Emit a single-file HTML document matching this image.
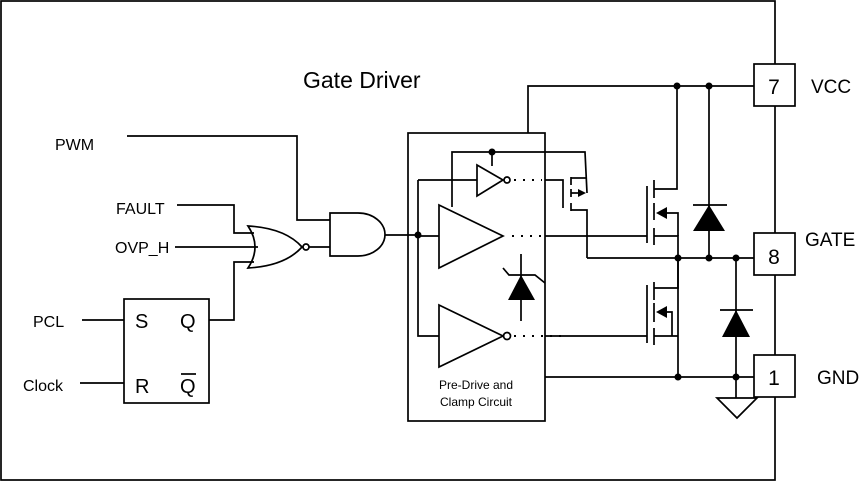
<!DOCTYPE html><html><head><style>body{margin:0;background:#fff}svg{display:block}text{font-family:"Liberation Sans",sans-serif;fill:#000}</style></head><body>
<svg width="868" height="482" viewBox="0 0 868 482" xmlns="http://www.w3.org/2000/svg">
<g fill="none" stroke="#000" stroke-width="1.7">
<rect x="1" y="1" width="774" height="479"/>
<!-- pins -->
<rect x="754" y="64" width="41" height="42" fill="#fff"/>
<rect x="754" y="233" width="41" height="42" fill="#fff"/>
<rect x="754" y="355" width="41" height="42" fill="#fff"/>
<!-- predrive box -->
<rect x="408" y="133" width="137" height="288"/>
<!-- left logic -->
<polyline points="127,136 297,136 297,220 330,220"/>
<path d="M330,213 H358 A27,21.5 0 0 1 358,256 H330 Z"/>
<line x1="385" y1="235" x2="418" y2="235"/>
<polyline points="177,205 234,205 234,233 254,233"/>
<line x1="175" y1="247" x2="258" y2="247"/>
<polyline points="209,320 234,320 234,262 254,262"/>
<path d="M248,226 Q262,247 248,268 Q285,266 302,247 Q285,228 248,226 Z"/>
<circle cx="306" cy="247" r="3"/>
<line x1="309" y1="247" x2="330" y2="247"/>
<rect x="124" y="299" width="85" height="104"/>
<line x1="82" y1="320" x2="124" y2="320"/>
<line x1="80" y1="383" x2="124" y2="383"/>
<line x1="181" y1="374" x2="196" y2="374"/>
<!-- inner predrive -->
<polyline points="418,180 418,336 439,336"/>
<line x1="418" y1="236" x2="439" y2="236"/>
<line x1="418" y1="180" x2="477" y2="180"/>
<polygon points="439,205 503,236 439,268"/>
<polygon points="439,305 503,336 439,367"/>
<polygon points="477,165 503,180 477,196"/>
<circle cx="507" cy="180" r="3"/>
<circle cx="507" cy="336" r="3.5"/>
<polyline points="452,207 452,152 585,152 587,193"/>
<line x1="492" y1="152" x2="492" y2="166"/>
<polyline points="545,180 563,180 563,208"/>
<line x1="571" y1="177" x2="571" y2="185"/>
<line x1="571" y1="189" x2="571" y2="197"/>
<line x1="571" y1="203" x2="571" y2="211"/>
<line x1="571" y1="178" x2="587" y2="178"/>
<line x1="571" y1="193" x2="582" y2="193"/>
<polyline points="571,210 587,210 587,258"/>
<!-- zener -->
<line x1="521" y1="254" x2="521" y2="321"/>
<polyline points="503,268 509,275 535,275 545,283"/>
<!-- dotted connections -->
<line x1="514" y1="180" x2="542" y2="180" stroke-dasharray="2,7" stroke-width="2"/>
<line x1="512" y1="236" x2="542" y2="236" stroke-dasharray="2,7" stroke-width="2"/>
<line x1="514" y1="336" x2="562" y2="336" stroke-dasharray="2,7" stroke-width="2"/>
<line x1="545" y1="236" x2="647" y2="236"/>
<line x1="545" y1="336" x2="647" y2="336"/>
<!-- upper NMOS -->
<line x1="647" y1="186" x2="647" y2="243"/>
<line x1="654" y1="180" x2="654" y2="198"/>
<line x1="654" y1="203" x2="654" y2="220"/>
<line x1="654" y1="228" x2="654" y2="245"/>
<polyline points="654,189 677,189 677,86"/>
<polyline points="664,213 678,213 678,236"/>
<polyline points="654,236 678,236 678,377"/>
<!-- lower NMOS -->
<line x1="647" y1="285" x2="647" y2="343"/>
<line x1="654" y1="282" x2="654" y2="300"/>
<line x1="654" y1="303" x2="654" y2="322"/>
<line x1="654" y1="328" x2="654" y2="345"/>
<polyline points="654,288 678,288 678,258"/>
<polyline points="664,312 672,312 672,336"/>
<line x1="654" y1="336" x2="678" y2="336"/>
<!-- rails -->
<polyline points="528,133 528,86 754,86"/>
<line x1="587" y1="258" x2="754" y2="258"/>
<line x1="545" y1="377" x2="754" y2="377"/>
<line x1="709" y1="86" x2="709" y2="258"/>
<line x1="693" y1="205" x2="727" y2="205"/>
<line x1="736" y1="258" x2="736" y2="398"/>
<line x1="720" y1="310" x2="753" y2="310"/>
<polygon points="717,398 757,398 737,418"/>
</g>
<g fill="#000">
<polygon points="508,300 535,300 521,275"/>
<polygon points="693,231 725,231 709,205"/>
<polygon points="722,337 750,337 736,310"/>
<polygon points="656,213 667,207 667,219"/>
<polygon points="656,312 667,306 667,318"/>
<polygon points="586,193 578,189 578,197"/>
<circle cx="492" cy="152" r="3.5"/><circle cx="418" cy="235" r="3.5"/>
<circle cx="677" cy="86" r="3.5"/><circle cx="709" cy="86" r="3.5"/>
<circle cx="678" cy="258" r="3.5"/><circle cx="709" cy="258" r="3.5"/><circle cx="736" cy="258" r="3.5"/>
<circle cx="678" cy="377" r="3.5"/><circle cx="736" cy="377" r="3.5"/>
</g>
<text x="303" y="88" font-size="23">Gate Driver</text>
<text x="55" y="150" font-size="16">PWM</text>
<text x="116" y="214" font-size="16">FAULT</text>
<text x="115" y="253" font-size="16">OVP_H</text>
<text x="33" y="327" font-size="16">PCL</text>
<text x="23" y="391" font-size="16">Clock</text>
<text x="135" y="328" font-size="20">S</text>
<text x="180" y="328" font-size="20">Q</text>
<text x="135" y="393" font-size="20">R</text>
<text x="180" y="393" font-size="20">Q</text>
<text x="476" y="389" font-size="12" text-anchor="middle">Pre-Drive and</text>
<text x="476" y="406" font-size="12" text-anchor="middle">Clamp Circuit</text>
<text x="774" y="94" font-size="21" text-anchor="middle">7</text>
<text x="774" y="264" font-size="21" text-anchor="middle">8</text>
<text x="774" y="385" font-size="21" text-anchor="middle">1</text>
<text x="811" y="93" font-size="19">VCC</text>
<text x="805" y="246" font-size="19">GATE</text>
<text x="817" y="384" font-size="19">GND</text>
</svg></body></html>
